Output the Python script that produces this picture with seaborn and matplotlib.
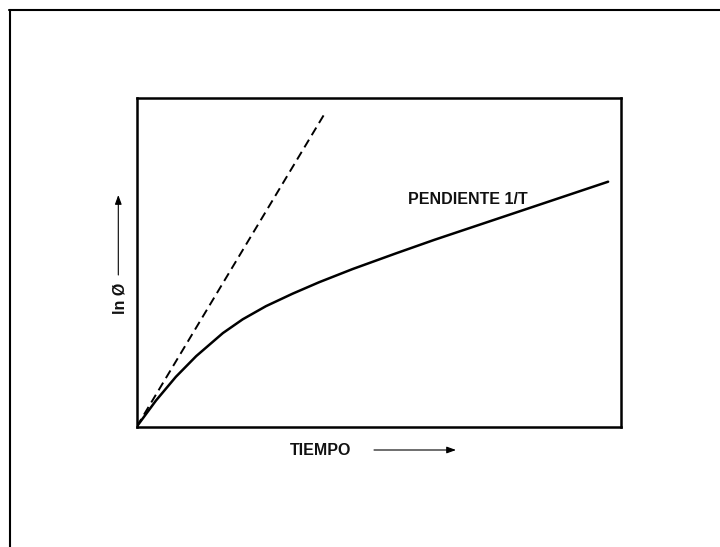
import matplotlib
matplotlib.use("Agg")
import matplotlib.pyplot as plt
from matplotlib.lines import Line2D
import seaborn as sns
import pandas as pd

# Curva de ln(phi) frente al tiempo (unidades normalizadas)
tiempo = [0.0, 0.040, 0.081, 0.123, 0.178, 0.219, 0.267, 0.322, 0.377, 0.446, 0.536, 0.615, 0.974]
ln_phi = [0.0, 0.080, 0.152, 0.215, 0.285, 0.327, 0.367, 0.405, 0.440, 0.480, 0.528, 0.569, 0.746]

# Tangente inicial (discontinua)
tangente_t = [0.0, 0.389]
tangente_ln = [0.0, 0.955]

etiqueta_curva = "PENDIENTE 1/T"
etiqueta_x = "TIEMPO"
etiqueta_y = "ln Ø"

sns.set_style("white")
plt.rcParams["font.family"] = ["Liberation Sans", "DejaVu Sans"]

W, H = 720, 547
fig = plt.figure(figsize=(W / 100, H / 100), dpi=100)

# Marco exterior (solo bordes izquierdo y superior visibles)
fig.add_artist(Line2D([10 / W, 10 / W], [0, 1 - 10 / H], color="black", lw=1.5,
                      transform=fig.transFigure))
fig.add_artist(Line2D([10 / W - 0.001, 1], [1 - 10 / H, 1 - 10 / H], color="black", lw=1.5,
                      transform=fig.transFigure))

x0, x1 = 136.7, 620.7
y0, y1 = 98.3, 426.7
ax = fig.add_axes([x0 / W, 1 - y1 / H, (x1 - x0) / W, (y1 - y0) / H])

curva = pd.DataFrame({"t": tiempo, "ln": ln_phi})
tang = pd.DataFrame({"t": tangente_t, "ln": tangente_ln})

lw_d = 1.4
sns.lineplot(data=tang, x="t", y="ln", ax=ax, color="black", lw=lw_d,
             linestyle=(0, (6.4 / lw_d, 3.8 / lw_d)), sort=False, estimator=None)
sns.lineplot(data=curva, x="t", y="ln", ax=ax, color="black", lw=1.8,
             sort=False, estimator=None, solid_joinstyle="round", solid_capstyle="round")

ax.set_xlim(0, 1)
ax.set_ylim(0, 1)
ax.set_xticks([])
ax.set_yticks([])
ax.set_xlabel("")
ax.set_ylabel("")
for s in ax.spines.values():
    s.set_visible(True)
    s.set_color("black")
    s.set_linewidth(1.8)

ax.text((408 - x0) / (x1 - x0), (y1 - 199) / (y1 - y0), etiqueta_curva,
        transform=ax.transAxes, ha="left", va="center", fontsize=11.5, fontweight="bold",
        color="#111111")

flecha = dict(arrowstyle="-|>,head_length=0.55,head_width=0.2", lw=0.8, color="black",
              mutation_scale=10, shrinkA=0, shrinkB=0)

# Eje horizontal: etiqueta y flecha
fig.text(320.3 / W, 1 - 450.7 / H, etiqueta_x, ha="center", va="center",
         fontsize=11.5, fontweight="bold", color="#111111")
ax.annotate("", xy=(456 / W, 1 - 450 / H), xytext=(374 / W, 1 - 450 / H),
            xycoords="figure fraction", textcoords="figure fraction",
            arrowprops=flecha, annotation_clip=False)

# Eje vertical: etiqueta y flecha
fig.text(120 / W, 1 - 298.3 / H, etiqueta_y, ha="center", va="center", rotation=90,
         fontsize=11.5, fontweight="bold", color="#111111")
ax.annotate("", xy=(118.3 / W, 1 - 195 / H), xytext=(118.3 / W, 1 - 275 / H),
            xycoords="figure fraction", textcoords="figure fraction",
            arrowprops=flecha, annotation_clip=False)

fig.savefig("out.png", dpi=100, facecolor="white")
